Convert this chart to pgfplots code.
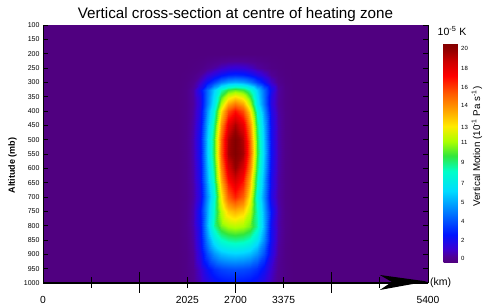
\documentclass[border=0pt]{standalone}
\usepackage{pgfplots}
\pgfplotsset{compat=1.18}
\usepackage{fontspec}
\setmainfont{Liberation Sans}
\definecolor{bgpurple}{RGB}{80,0,128}

\pgfplotstableread{
x y v
1900 200 0
2000 200 0
2100 200 0
2200 200 0
2300 200 0
2400 200 0
2500 200 0
2600 200 0
2700 200 0
2800 200 0
2900 200 0
3000 200 0
3100 200 0
3200 200 0
3300 200 0
3400 200 0
3500 200 0
1900 225 0
2000 225 0.01
2100 225 0.02
2200 225 0.06
2300 225 0.15
2400 225 0.24
2500 225 0.38
2600 225 0.47
2700 225 0.5
2800 225 0.47
2900 225 0.38
3000 225 0.24
3100 225 0.15
3200 225 0.06
3300 225 0.02
3400 225 0.01
3500 225 0
1900 250 0
2000 250 0.01
2100 250 0.06
2200 250 0.15
2300 250 0.42
2400 250 0.67
2500 250 1.05
2600 250 1.3
2700 250 1.4
2800 250 1.3
2900 250 1.05
3000 250 0.67
3100 250 0.42
3200 250 0.15
3300 250 0.06
3400 250 0.01
3500 250 0
1900 275 0
2000 275 0.04
2100 275 0.17
2200 275 0.52
2300 275 1.19
2400 275 1.74
2500 275 2.35
2600 275 2.76
2700 275 2.9
2800 275 2.76
2900 275 2.35
3000 275 1.74
3100 275 1.19
3200 275 0.52
3300 275 0.17
3400 275 0.04
3500 275 0
1900 300 0
2000 300 0.08
2100 300 0.36
2200 300 1.1
2300 300 2.26
2400 300 3.36
2500 300 4.51
2600 300 5.23
2700 300 5.5
2800 300 5.23
2900 300 4.51
3000 300 3.36
3100 300 2.26
3200 300 1.1
3300 300 0.36
3400 300 0.08
3500 300 0
1900 325 0
2000 325 0.15
2100 325 0.67
2200 325 2.06
2300 325 4.22
2400 325 6.28
2500 325 8.45
2600 325 9.79
2700 325 10.3
2800 325 9.79
2900 325 8.45
3000 325 6.28
3100 325 4.22
3200 325 2.06
3300 325 0.67
3400 325 0.15
3500 325 0
1900 350 0
2000 350 0.15
2100 350 0.64
2200 350 1.71
2300 350 4.32
2400 350 6.73
2500 350 9.91
2600 350 11.94
2700 350 12.7
2800 350 11.94
2900 350 9.91
3000 350 6.73
3100 350 4.32
3200 350 1.71
3300 350 0.64
3400 350 0.15
3500 350 0
1900 375 0
2000 375 0.15
2100 375 0.59
2200 375 1.63
2300 375 4.44
2400 375 7.1
2500 375 11.1
2600 375 13.76
2700 375 14.8
2800 375 13.76
2900 375 11.1
3000 375 7.1
3100 375 4.44
3200 375 1.63
3300 375 0.59
3400 375 0.15
3500 375 0
1900 400 0
2000 400 0.17
2100 400 0.67
2200 400 1.85
2300 400 5.04
2400 400 8.06
2500 400 12.6
2600 400 15.62
2700 400 16.8
2800 400 15.62
2900 400 12.6
3000 400 8.06
3100 400 5.04
3200 400 1.85
3300 400 0.67
3400 400 0.17
3500 400 0
1900 450 0
2000 450 0.19
2100 450 0.76
2200 450 2.08
2300 450 5.67
2400 450 9.07
2500 450 14.18
2600 450 17.58
2700 450 18.9
2800 450 17.58
2900 450 14.18
3000 450 9.07
3100 450 5.67
3200 450 2.08
3300 450 0.76
3400 450 0.19
3500 450 0
1900 500 0
2000 500 0.2
2100 500 0.81
2200 500 2.22
2300 500 6.06
2400 500 9.7
2500 500 15.15
2600 500 18.79
2700 500 20.2
2800 500 18.79
2900 500 15.15
3000 500 9.7
3100 500 6.06
3200 500 2.22
3300 500 0.81
3400 500 0.2
3500 500 0
1900 550 0
2000 550 0.2
2100 550 0.82
2200 550 2.24
2300 550 6.12
2400 550 9.79
2500 550 15.3
2600 550 18.97
2700 550 20.4
2800 550 18.97
2900 550 15.3
3000 550 9.79
3100 550 6.12
3200 550 2.24
3300 550 0.82
3400 550 0.2
3500 550 0
1900 600 0
2000 600 0.19
2100 600 0.77
2200 600 2.12
2300 600 5.79
2400 600 9.26
2500 600 14.48
2600 600 17.95
2700 600 19.3
2800 600 17.95
2900 600 14.48
3000 600 9.26
3100 600 5.79
3200 600 2.12
3300 600 0.77
3400 600 0.19
3500 600 0
1900 650 0
2000 650 0.18
2100 650 0.71
2200 650 1.96
2300 650 5.34
2400 650 8.54
2500 650 13.35
2600 650 16.55
2700 650 17.8
2800 650 16.55
2900 650 13.35
3000 650 8.54
3100 650 5.34
3200 650 1.96
3300 650 0.71
3400 650 0.18
3500 650 0
1900 700 0
2000 700 0.16
2100 700 0.66
2200 700 1.8
2300 700 4.92
2400 700 7.87
2500 700 12.3
2600 700 15.25
2700 700 16.4
2800 700 15.25
2900 700 12.3
3000 700 7.87
3100 700 4.92
3200 700 1.8
3300 700 0.66
3400 700 0.16
3500 700 0
1900 725 0
2000 725 0.18
2100 725 0.75
2200 725 2.1
2300 725 5.25
2400 725 8.25
2500 725 11.85
2600 725 14.18
2700 725 15
2800 725 14.18
2900 725 11.85
3000 725 8.25
3100 725 5.25
3200 725 2.1
3300 725 0.75
3400 725 0.18
3500 725 0
1900 750 0
2000 750 0.2
2100 750 0.82
2200 750 2.45
2300 750 5.44
2400 750 8.43
2500 750 11.29
2600 750 13.06
2700 750 13.6
2800 750 13.06
2900 750 11.29
3000 750 8.43
3100 750 5.44
3200 750 2.45
3300 750 0.82
3400 750 0.2
3500 750 0
1900 800 0
2000 800 0.23
2100 800 0.79
2200 800 2.15
2300 800 5.65
2400 800 8.7
2500 800 10.4
2600 800 11.07
2700 800 11.3
2800 800 11.07
2900 800 10.4
3000 800 8.7
3100 800 5.65
3200 800 2.15
3300 800 0.79
3400 800 0.23
3500 800 0
1900 850 0
2000 850 0.18
2100 850 0.71
2200 850 2.09
2300 850 4.81
2400 850 6.99
2500 850 8.23
2600 850 8.72
2700 850 8.9
2800 850 8.72
2900 850 8.23
3000 850 6.99
3100 850 4.81
3200 850 2.09
3300 850 0.71
3400 850 0.18
3500 850 0
1900 900 0
2000 900 0.13
2100 900 0.57
2200 900 1.76
2300 900 3.65
2400 900 5.04
2500 900 5.86
2600 900 6.17
2700 900 6.3
2800 900 6.17
2900 900 5.86
3000 900 5.04
3100 900 3.65
3200 900 1.76
3300 900 0.57
3400 900 0.13
3500 900 0
1900 950 0
2000 950 0.13
2100 950 0.44
2200 950 1.18
2300 950 2.22
2400 950 3.0
2500 950 3.44
2600 950 3.63
2700 950 3.7
2800 950 3.63
2900 950 3.44
3000 950 3.0
3100 950 2.22
3200 950 1.18
3300 950 0.44
3400 950 0.13
3500 950 0
1900 1000 0
2000 1000 0.13
2100 1000 0.4
2200 1000 0.9
2300 1000 1.55
2400 1000 2.05
2500 1000 2.33
2600 1000 2.45
2700 1000 2.5
2800 1000 2.45
2900 1000 2.33
3000 1000 2.05
3100 1000 1.55
3200 1000 0.9
3300 1000 0.4
3400 1000 0.13
3500 1000 0
}\vmdata

\begin{document}
\begin{tikzpicture}
\begin{axis}[
  scale only axis,
  width=385pt, height=258pt,
  xmin=0, xmax=5400, ymin=100, ymax=1000,
  y dir=reverse,
  clip=false,
  axis on top,
  axis background/.style={fill=bgpurple},
  axis line style={draw=none},
  /pgf/number format/assume math mode=true,
  /pgf/number format/1000 sep={},
  colormap={vm}{[1pt] rgb255(0pt)=(80,0,128); rgb255(5pt)=(80,0,150); rgb255(12pt)=(60,0,210); rgb255(25pt)=(0,20,255); rgb255(45pt)=(0,120,255); rgb255(65pt)=(0,220,255); rgb255(83pt)=(0,255,200); rgb255(97pt)=(50,230,60); rgb255(110pt)=(170,255,0); rgb255(124pt)=(255,235,0); rgb255(138pt)=(255,165,0); rgb255(154pt)=(255,90,0); rgb255(170pt)=(255,0,0); rgb255(183pt)=(205,0,0); rgb255(193pt)=(150,0,0); rgb255(200pt)=(130,0,0)},
  point meta min=0, point meta max=20,
  xtick={0,675,1350,2025,2700,3375,4050,4725,5400},
  xticklabels={0,,,2025,2700,3375,,,5400},
  xtick style={draw=none},
  xticklabel style={font=\fontsize{10.3}{12}\selectfont, anchor=base, yshift=-20.3pt},
  ytick={100,150,...,1000},
  ytick pos=both,
  yticklabel pos=left,
  tick align=inside,
  major tick length=5pt,
  ytick style={black, line width=0.6pt},
  yticklabel style={font=\fontsize{7}{8}\selectfont},
  ylabel={Altitude (mb)},
  ylabel style={font=\bfseries\fontsize{9}{10}\selectfont, at={(axis description cs:-0.079,0.455)}, anchor=center},
  colorbar right,
  colorbar style={
    scale only axis,
    at={(parent axis.north east)}, anchor=north west, xshift=7pt, yshift=-18pt,
    width=17pt, height=219pt,
    axis line style={draw=none},
    ytick={0.3,2,3.7,5.4,7.2,9.1,10.9,12.3,14.3,15.9,17.7,19.5},
    yticklabels={0,2,4,5,7,9,11,13,14,16,18,20},
    ytick style={draw=none},
    major tick length=0pt,
    yticklabel style={font=\fontsize{6}{7}\selectfont, inner xsep=0.5pt},
    title={10\textsuperscript{-5} K},
    title style={font=\fontsize{10.5}{12}\selectfont, yshift=-2pt},
  },
]
\addplot[surf, shader=interp, mesh/cols=17, point meta=explicit] table[x=x, y=y, meta=v] {\vmdata};
% title
\node[anchor=base, font=\fontsize{15.2}{17}\selectfont, inner sep=0pt] at ([yshift=6.7pt]axis description cs:0.5,1) {Vertical cross-section at centre of heating zone};
% colorbar label
\node[rotate=90, anchor=center, inner sep=0pt, font=\fontsize{9.8}{12}\selectfont] at (axis description cs:1.127,0.529) {Vertical Motion (10\textsuperscript{-1} Pa s\textsuperscript{-1})};
% axis lines
\draw[black, line width=0.6pt] (axis description cs:0,0) -- (axis description cs:0,1);
\draw[black, line width=0.5pt] (axis description cs:1,0) -- (axis description cs:1,1);
\draw[black, line width=1.3pt] (axis description cs:0,0) -- (axis description cs:1,0);
% x tick marks
\draw[black, line width=0.8pt] ([yshift=5.5pt]axis description cs:0.125,0) -- ([yshift=-5.5pt]axis description cs:0.125,0);
\draw[black, line width=0.8pt] ([yshift=5.5pt]axis description cs:0.375,0) -- ([yshift=-5.5pt]axis description cs:0.375,0);
\draw[black, line width=0.8pt] ([yshift=5.5pt]axis description cs:0.625,0) -- ([yshift=-5.5pt]axis description cs:0.625,0);
\draw[black, line width=0.8pt] ([yshift=5.5pt]axis description cs:0.875,0) -- ([yshift=-5.5pt]axis description cs:0.875,0);
\draw[black, line width=0.8pt] ([yshift=10.5pt]axis description cs:0.25,0) -- ([yshift=-10.5pt]axis description cs:0.25,0);
\draw[black, line width=0.8pt] ([yshift=10.5pt]axis description cs:0.5,0) -- ([yshift=-10.5pt]axis description cs:0.5,0);
\draw[black, line width=0.8pt] ([yshift=10.5pt]axis description cs:0.75,0) -- ([yshift=-10.5pt]axis description cs:0.75,0);
% arrow
\fill[black] (axis description cs:0.875,0.031) -- (axis description cs:0.997,0.006) -- (axis description cs:0.875,-0.027) -- (axis description cs:0.906,0.004) -- cycle;
\node[anchor=west, inner sep=0pt, font=\fontsize{10.5}{12}\selectfont] at ([xshift=2pt, yshift=0.5pt]axis description cs:1,0) {(km)};
\coordinate (SW) at (axis description cs:0,0);
\coordinate (NE) at (axis description cs:1,1);
\end{axis}
\pgfresetboundingbox
\path ([shift={(-43pt,-22pt)}]SW) rectangle ([shift={(55pt,25pt)}]NE);
\end{tikzpicture}
\end{document}
